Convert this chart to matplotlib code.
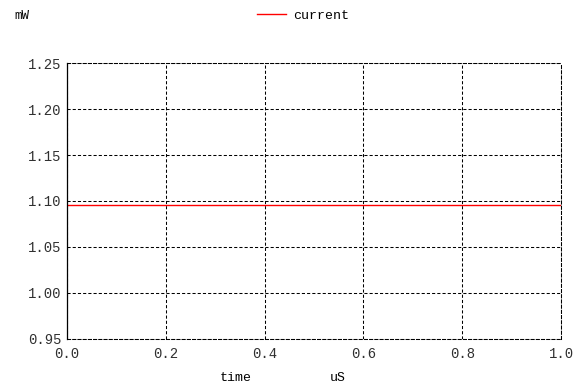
import numpy as np
import matplotlib.pyplot as plt

# trace data
time_us = [0.0, 1.0]
current_mw = [1.096, 1.096]

x_ticks = [0.0, 0.2, 0.4, 0.6, 0.8, 1.0]
y_ticks = [0.95, 1.00, 1.05, 1.10, 1.15, 1.20, 1.25]

plt.rcParams['font.family'] = ['Liberation Mono', 'DejaVu Sans Mono']

fig = plt.figure(figsize=(5.87, 3.87), dpi=100)
ax = fig.add_axes([67 / 587, 48 / 387, 494 / 587, 276 / 387])

ax.plot(time_us, current_mw, color='#ff0000', linewidth=1.0, label='current')

ax.set_xlim(0.0, 1.0)
ax.set_ylim(0.95, 1.25)
ax.set_xticks(x_ticks)
ax.set_yticks(y_ticks)
ax.set_xticklabels([f'{v:.1f}' for v in x_ticks])
ax.set_yticklabels([f'{v:.2f}' for v in y_ticks])
ax.tick_params(length=0, labelsize=10, colors='#303030')
ax.tick_params(axis='x', pad=6)
ax.tick_params(axis='y', pad=4)

dash = (0, (3, 2))
ax.grid(True, color='black', linestyle=dash, linewidth=0.75)
for side in ['top', 'right', 'bottom']:
    ax.spines[side].set_linestyle(dash)
    ax.spines[side].set_linewidth(0.75)
ax.spines['left'].set_linewidth(0.9)

# units and axis names sit outside the axes
fig.text(14 / 587, 1 - 16 / 387, 'mW', fontsize=9, va='center')
fig.text(220 / 587, 1 - 378 / 387, 'time', fontsize=9.5, va='center')
fig.text(330 / 587, 1 - 378 / 387, 'uS', fontsize=9.5, va='center')

ax.legend(loc='center', bbox_to_anchor=(303 / 587, 1 - 16 / 387),
          bbox_transform=fig.transFigure, frameon=False, fontsize=9.5,
          handlelength=2.2, handletextpad=0.5)

fig.savefig('out.png', dpi=100)
